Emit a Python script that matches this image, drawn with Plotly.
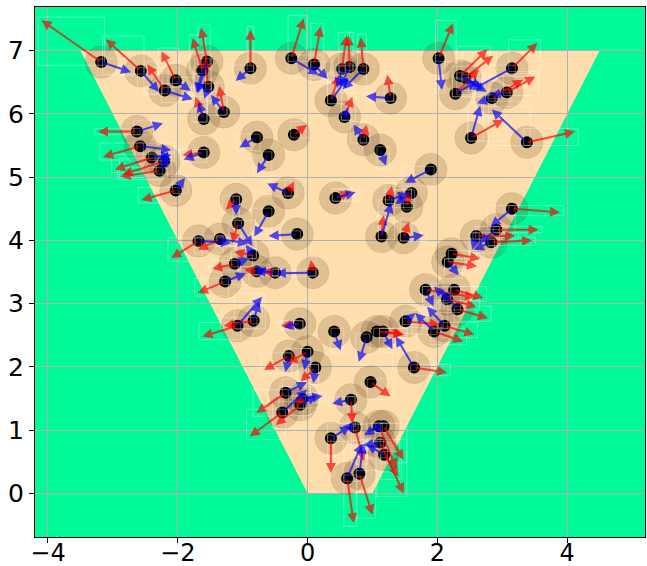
import math
import plotly.graph_objects as go

# Agent positions
pos_x = [-3.18, -2.57, -2.20, -2.03, -1.55, -1.62, -1.53, -1.60, -1.29, -0.88,
         -0.25, 0.10, 0.53, 0.65, 0.86, 0.36, 1.28, 0.57, 0.86, 1.12,
         1.90, 2.02, 2.35, 2.43, 2.28, 3.15, 3.07, 2.84, 2.52, 3.38,
         -2.63, -0.78, -0.21, -2.58, -2.40, -2.21, -2.28, -1.60, -0.60, -2.03,
         -1.10, -0.60, -0.30, 0.43, 1.25, 1.60, 1.53, 3.15, -1.07, -0.16,
         -1.68, -1.35, 1.14, 1.48, 2.91, 2.60, 2.83, -0.84, -1.12, -1.27,
         -0.78, -0.50, 0.08, 2.22, 2.16, 1.82, 2.26, 2.15, 2.31, -1.08,
         -0.83, -0.12, 0.41, 0.91, 1.07, 1.16, 1.51, 1.95, 2.11, -0.29,
         0.00, 0.12, 0.97, 1.64, -0.34, -0.08, -0.11, -0.39, 0.67, 0.73,
         0.36, 1.10, 1.17, 1.12, 1.18, 0.61, 0.80]
pos_y = [6.82, 6.68, 6.37, 6.53, 6.83, 6.69, 6.43, 5.92, 6.03, 6.72,
         6.88, 6.78, 6.71, 6.74, 6.71, 6.21, 6.25, 5.95, 5.59, 5.43,
         5.12, 6.88, 6.60, 6.57, 6.32, 6.72, 6.34, 6.25, 5.62, 5.55,
         5.72, 5.63, 5.67, 5.49, 5.31, 5.25, 5.10, 5.39, 5.35, 4.79,
         4.65, 4.46, 4.75, 4.67, 4.63, 4.75, 4.53, 4.50, 4.27, 4.10,
         3.99, 4.02, 4.06, 4.04, 4.17, 4.07, 3.97, 3.76, 3.63, 3.35,
         3.51, 3.49, 3.49, 3.79, 3.66, 3.22, 3.22, 3.07, 2.91, 2.65,
         2.73, 2.68, 2.56, 2.47, 2.56, 2.56, 2.72, 2.56, 2.65, 2.17,
         2.24, 1.99, 1.76, 1.99, 1.59, 1.49, 1.40, 1.28, 1.48, 1.04,
         0.87, 1.06, 1.06, 0.80, 0.61, 0.24, 0.31]

# Desired-direction vectors (red)
red_dx = [-0.92, -0.54, -0.27, -0.22, -0.09, -0.15, -0.05, -0.13, -0.07, 0.00,
          0.19, 0.10, 0.07, -0.02, -0.04, 0.12, -0.05, 0.12, 0.05, 0.04,
          0.06, 0.22, 0.42, 0.43, 0.36, 0.39, 0.44, 0.48, 0.50, 0.74,
          -0.60, 0.06, 0.20, -0.57, -0.57, -0.64, -0.60, -0.33, 0.05, -0.53,
          -0.16, 0.05, 0.09, 0.23, 0.05, 0.06, 0.02, 0.74, -0.09, 0.06,
          -0.42, -0.34, 0.03, 0.08, 0.65, 0.60, 0.63, -0.29, -0.35, -0.42,
          -0.20, -0.20, -0.03, 0.44, 0.45, 0.76, 0.45, 0.45, 0.47, -0.54,
          -0.46, -0.29, 0.05, 0.05, 0.40, 0.33, 0.53, 0.45, 0.46, -0.38,
          -0.31, -0.23, 0.31, 0.51, -0.45, -0.10, -0.38, -0.50, 0.02, 0.14,
          0.00, 0.27, 0.31, 0.36, 0.22, 0.10, 0.20]
red_dy = [0.66, 0.50, 0.41, 0.46, 0.53, 0.51, 0.45, 0.35, 0.41, 0.61,
          0.63, 0.60, 0.53, 0.50, 0.50, 0.40, 0.37, 0.32, 0.24, -0.08,
          -0.06, 0.55, 0.42, 0.35, 0.38, 0.40, 0.25, 0.29, 0.29, 0.17,
          0.00, 0.06, 0.16, -0.17, -0.19, -0.21, -0.09, -0.04, 0.06, -0.15,
          -0.17, 0.06, 0.18, 0.10, 0.23, 0.06, 0.25, -0.06, -0.31, 0.05,
          -0.27, -0.17, 0.34, 0.25, 0.00, 0.00, 0.03, 0.06, -0.08, -0.18,
          0.03, 0.02, 0.20, -0.08, -0.07, -0.12, -0.13, -0.12, -0.14, -0.17,
          -0.08, -0.03, 0.06, -0.06, -0.05, -0.05, -0.05, -0.16, -0.14, -0.22,
          -0.18, -0.22, -0.23, -0.08, -0.32, -0.10, -0.32, -0.38, -0.37, -0.53,
          -0.55, -0.67, -0.53, -0.80, -0.34, -0.71, -0.65]

# Velocity vectors (blue)
blue_dx = [0.46, 0.28, 0.43, 0.23, -0.14, -0.09, -0.06, -0.08, -0.20, -0.23,
           0.42, 0.21, -0.08, -0.15, -0.32, 0.26, -0.38, 0.05, -0.15, 0.09,
           -0.40, 0.05, 0.41, 0.25, 0.33, -0.62, -0.25, -0.23, 0.14, -0.54,
           0.40, -0.27, 0.05, 0.48, 0.30, 0.06, 0.14, -0.31, -0.18, 0.14,
           0.00, -0.22, -0.32, 0.31, 0.30, -0.25, 0.05, -0.33, 0.22, -0.44,
           0.50, 0.43, 0.15, 0.31, -0.27, -0.06, -0.27, -0.11, 0.22, 0.32,
           0.15, -0.30, -0.57, 0.06, 0.17, 0.12, -0.06, -0.20, -0.25, 0.38,
           0.08, -0.25, 0.10, -0.12, 0.06, 0.15, 0.15, -0.29, -0.27, -0.05,
           -0.05, -0.03, 0.05, -0.28, 0.33, 0.31, 0.25, 0.38, -0.29, -0.19,
           0.30, -0.23, -0.20, -0.26, -0.27, 0.23, 0.06]
blue_dy = [-0.16, -0.33, -0.14, -0.17, -0.50, -0.36, -0.19, 0.27, 0.27, -0.20,
           -0.26, -0.23, -0.30, -0.31, -0.32, 0.37, 0.03, 0.15, 0.24, -0.25,
           -0.21, -0.50, -0.25, -0.15, 0.20, -0.34, -0.05, -0.08, 0.51, 0.52,
           0.13, -0.16, 0.04, -0.06, 0.04, 0.16, 0.22, -0.11, -0.29, 0.20,
           -0.25, -0.40, 0.15, 0.09, 0.12, -0.18, 0.06, -0.28, -0.36, -0.03,
           -0.03, -0.07, 0.53, 0.04, -0.21, -0.22, -0.12, 0.17, 0.09, 0.13,
           0.05, 0.03, -0.01, -0.06, -0.21, -0.26, -0.06, 0.20, 0.30, 0.46,
           0.30, -0.05, -0.30, -0.39, 0.06, -0.28, 0.13, 0.29, 0.30, -0.25,
           -0.29, -0.25, 0.05, 0.49, 0.17, 0.05, 0.15, 0.36, -0.06, 0.02,
           0.19, -0.14, -0.05, -0.04, 0.16, 0.55, 0.48]

# Walkable corridor (trapezoid)
corridor_x = [0.0, 1.0, 4.5, -3.5]
corridor_y = [0.0, 0.0, 7.0, 7.0]

x_ticks = [-4, -2, 0, 2, 4]
y_ticks = [0, 1, 2, 3, 4, 5, 6, 7]

GREEN = "#00FA9A"
PEACH = "#FFDEAD"
RED = "rgba(255,0,0,0.68)"
BLUE = "rgba(0,0,255,0.68)"
AGENT_RADIUS = 0.25
MIN_ARROW = 0.09  # vectors shorter than this stay hidden under the agent dot

fig = go.Figure()

# personal-space discs
fig.add_trace(go.Scatter(
    x=pos_x, y=pos_y, mode="markers",
    marker=dict(size=2 * AGENT_RADIUS * 65, color="rgba(70,40,10,0.17)",
                line=dict(width=1, color="rgba(70,40,10,0.07)")),
    hoverinfo="skip", showlegend=False))

# agent centres
fig.add_trace(go.Scatter(
    x=pos_x, y=pos_y, mode="markers",
    marker=dict(size=12, color="black", line=dict(width=0)),
    hoverinfo="skip", showlegend=False))

shapes = []
path = "M " + " L ".join(f"{a},{b}" for a, b in zip(corridor_x, corridor_y)) + " Z"
shapes.append(dict(type="path", path=path, xref="x", yref="y",
                   fillcolor=PEACH, line=dict(width=0), layer="below"))

annotations = []
pad = 0.05
for vx, vy, col in ((red_dx, red_dy, RED), (blue_dx, blue_dy, BLUE)):
    for x0, y0, dx, dy in zip(pos_x, pos_y, vx, vy):
        if math.hypot(dx, dy) < MIN_ARROW:
            continue
        x1, y1 = x0 + dx, y0 + dy
        annotations.append(dict(
            x=x1, y=y1, ax=x0, ay=y0, xref="x", yref="y", axref="x", ayref="y",
            text="", showarrow=True, arrowhead=2, arrowsize=1, arrowwidth=2,
            arrowcolor=col, standoff=0, startstandoff=0))
        shapes.append(dict(
            type="rect", xref="x", yref="y",
            x0=min(x0, x1) - pad, x1=max(x0, x1) + pad,
            y0=min(y0, y1) - pad, y1=max(y0, y1) + pad,
            line=dict(width=1, color="rgba(255,255,255,0.3)"),
            fillcolor="rgba(0,0,0,0)", layer="above"))

fig.update_layout(
    width=647, height=566,
    margin=dict(l=35, r=2, t=7, b=29, autoexpand=False),
    paper_bgcolor="white", plot_bgcolor=GREEN,
    font=dict(family="DejaVu Sans", size=25, color="black"),
    shapes=shapes, annotations=annotations, showlegend=False)

axis_common = dict(showgrid=True, gridcolor="#b0b0b0", gridwidth=1,
                   zeroline=False, showline=True, mirror=True,
                   linecolor="black", linewidth=1, automargin=False,
                   ticks="outside", ticklen=5, tickwidth=1, tickcolor="black")
fig.update_xaxes(range=[-4.2, 5.2], tickvals=x_ticks,
                 ticktext=[str(v).replace("-", "\u2212") for v in x_ticks],
                 tickfont=dict(size=24), ticklabelstandoff=-11, **axis_common)
fig.update_yaxes(range=[-0.69, 7.69], tickvals=y_ticks,
                 ticktext=[str(v) for v in y_ticks], **axis_common)

fig.write_html("out.html")
